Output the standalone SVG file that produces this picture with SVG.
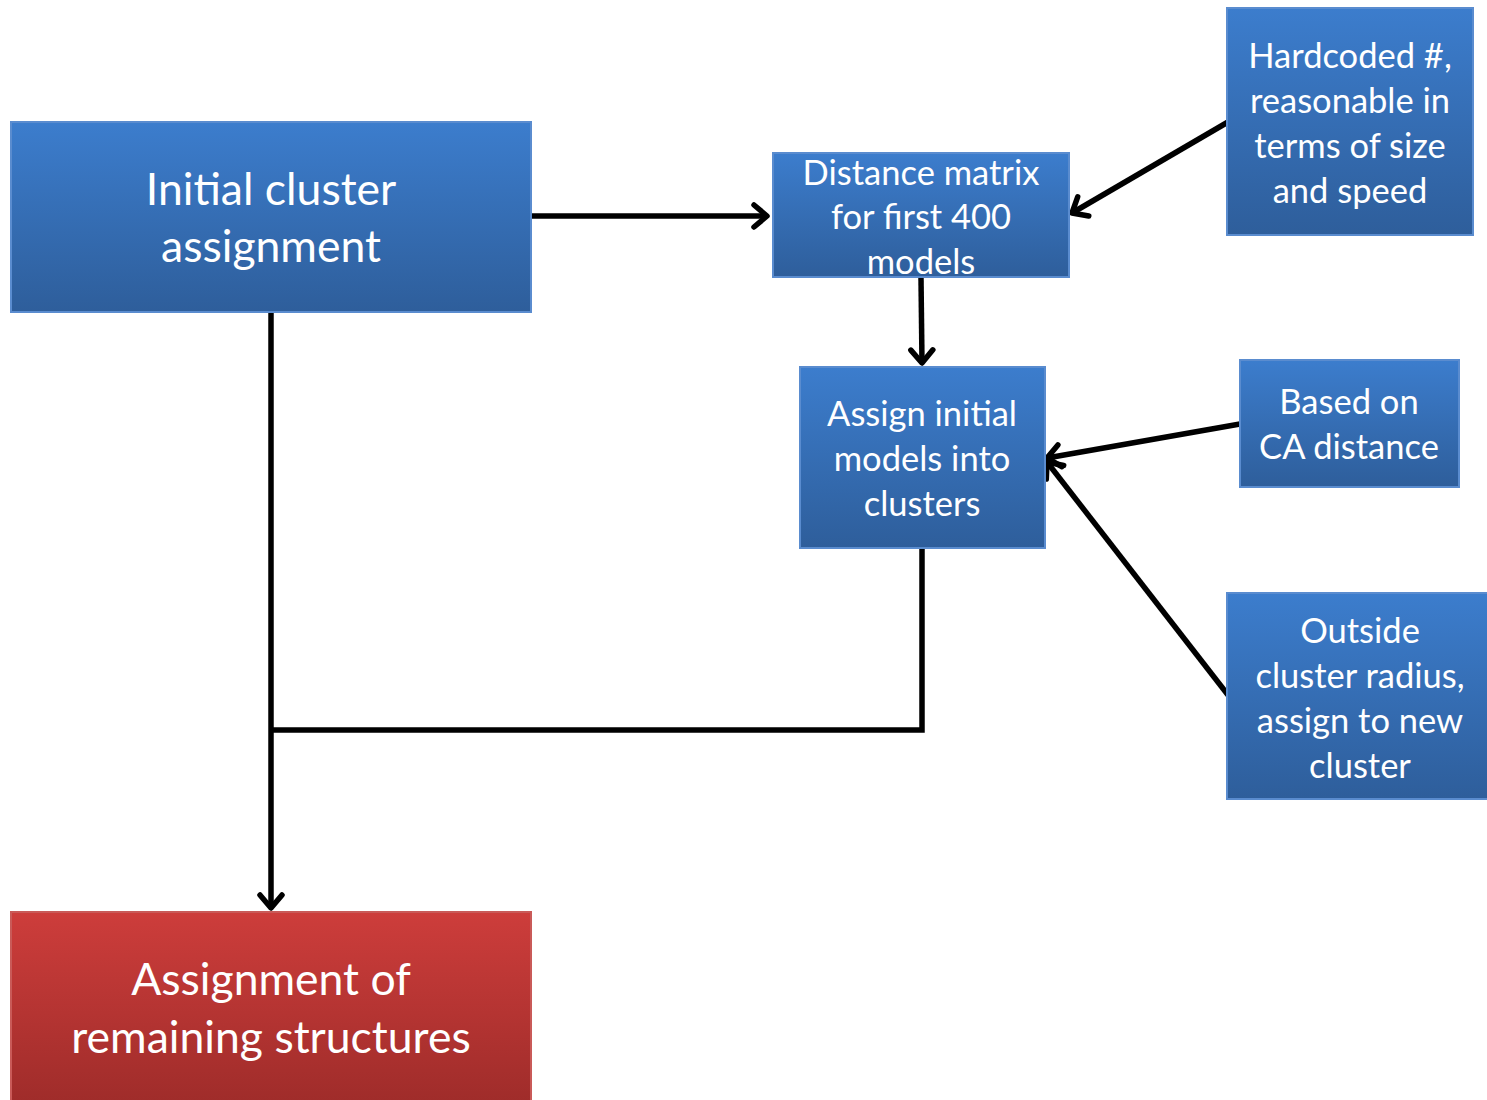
<svg xmlns="http://www.w3.org/2000/svg" width="1487" height="1100" viewBox="0 0 1487 1100">
<style>
.box{stroke:#5a8ccf;stroke-width:2}
.blue{fill:url(#gb)}
.red{fill:url(#gr);stroke:#c95a58}
text{font-family:Lato,"Open Sans","Liberation Sans",sans-serif;fill:#fff;text-anchor:middle}
.big{font-size:44.5px}
.sm{font-size:34.5px}
.conn{stroke:#000;stroke-width:5.5;fill:none}
</style>
<defs>
<linearGradient id="gb" x1="0" y1="0" x2="0" y2="1">
<stop offset="0" stop-color="#3c7dcd"/>
<stop offset="1" stop-color="#2e5e9b"/>
</linearGradient>
<linearGradient id="gr" x1="0" y1="0" x2="0" y2="1">
<stop offset="0" stop-color="#cd3d3b"/>
<stop offset="1" stop-color="#9f2c2a"/>
</linearGradient>
<marker id="arr" markerUnits="userSpaceOnUse" markerWidth="30" markerHeight="30" viewBox="-20 -15 25 30" refX="0" refY="0" orient="auto" overflow="visible">
<path d="M-13,-11 L0,0 L-13,11" fill="none" stroke="#000" stroke-width="5.5" stroke-linecap="round" stroke-linejoin="round"/>
</marker>
</defs>
<g id="connectors">
<line class="conn" x1="531" y1="216" x2="767" y2="216" marker-end="url(#arr)"/>
<line class="conn" x1="1228" y1="122" x2="1072" y2="213" marker-end="url(#arr)"/>
<line class="conn" x1="921" y1="278" x2="922" y2="363" marker-end="url(#arr)"/>
<line class="conn" x1="1240" y1="424" x2="1047" y2="458" marker-end="url(#arr)"/>
<line class="conn" x1="1228" y1="695" x2="1047" y2="462" marker-end="url(#arr)"/>
<line class="conn" x1="271" y1="312" x2="271" y2="908" marker-end="url(#arr)"/>
<polyline class="conn" points="922,548 922,730 271,730"/>
</g>
<g id="initial">
<rect class="box blue" x="11" y="122" width="520" height="190"/>
<text class="big" x="271" y="205">Initial cluster</text>
<text class="big" x="271" y="262">assignment</text>
</g>
<g id="distance">
<rect class="box blue" x="773" y="153" width="296" height="124"/>
<text class="sm" x="921" y="185">Distance matrix</text>
<text class="sm" x="921" y="229">for first 400</text>
<text class="sm" x="921" y="274">models</text>
</g>
<g id="hardcoded">
<rect class="box blue" x="1227" y="8" width="246" height="227"/>
<text class="sm" x="1350" y="68">Hardcoded #,</text>
<text class="sm" x="1350" y="113">reasonable in</text>
<text class="sm" x="1350" y="158">terms of size</text>
<text class="sm" x="1350" y="203">and speed</text>
</g>
<g id="assign">
<rect class="box blue" x="800" y="367" width="245" height="181"/>
<text class="sm" x="922" y="426">Assign initial</text>
<text class="sm" x="922" y="471">models into</text>
<text class="sm" x="922" y="516">clusters</text>
</g>
<g id="based">
<rect class="box blue" x="1240" y="360" width="219" height="127"/>
<text class="sm" x="1349" y="414">Based on</text>
<text class="sm" x="1349" y="459">CA distance</text>
</g>
<g id="outside">
<rect class="box blue" x="1227" y="593" width="262" height="206"/>
<text class="sm" x="1360" y="643">Outside</text>
<text class="sm" x="1360" y="688">cluster radius,</text>
<text class="sm" x="1360" y="733">assign to new</text>
<text class="sm" x="1360" y="778">cluster</text>
</g>
<g id="remaining">
<rect class="box red" x="11" y="912" width="520" height="192"/>
<text class="big" x="271" y="995">Assignment of</text>
<text class="big" x="271" y="1053">remaining structures</text>
</g>
</svg>
